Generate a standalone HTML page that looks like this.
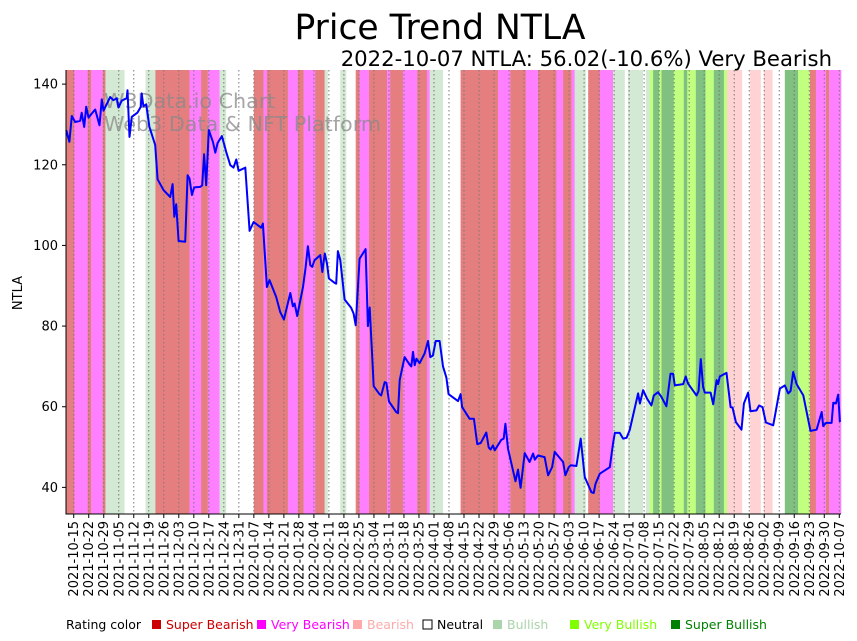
<!DOCTYPE html>
<html><head><meta charset="utf-8"><style>
body{margin:0;background:#fff;}
svg{display:block;font-family:"DejaVu Sans","Liberation Sans",sans-serif;}
</style></head><body>
<svg id="chart" width="857" height="641" viewBox="0 0 857 641" xmlns="http://www.w3.org/2000/svg">
<g id="bands"></g>
<g id="grid"></g>
<text x="104" y="108" font-size="20.7" fill="#888" fill-opacity="0.75">W3Data.io Chart</text>
<text x="104" y="131" font-size="20.7" fill="#888" fill-opacity="0.75">Web3 Data &amp; NFT Platform</text>
<path id="line" fill="none" stroke="#0000ff" stroke-width="2" stroke-linejoin="round"/>
<g id="axes"></g>
<text x="440" y="39" font-size="34.5" text-anchor="middle">Price Trend NTLA</text>
<text x="832" y="66" font-size="21.2" text-anchor="end">2022-10-07 NTLA: 56.02(-10.6%) Very Bearish</text>
<text x="22" y="293" font-size="13" text-anchor="middle" transform="rotate(-90 22 293)">NTLA</text>
<g id="legend" font-size="12.5"></g>
</svg>
<script>
// rating bands: start day (relative to 2021-10-15) and rating code
const bandStarts=[-3.6,0.3,6.5,8.1,13.5,14.8,23.7,33.5,38.1,54.0,59.4,62.5,68.0,71.1,84.0,88.5,90.1,99.9,104.5,107.2,112.6,117.0,118.5,124.3,127.1,131.5,133.3,137.7,146.1,147.6,153.5,160.2,164.7,166.0,172.2,180.4,197.9,203.6,210.8,216.5,225.1,228.2,232.1,233.6,238.8,239.9,245.3,251.5,257.0,258.5,265.5,266.8,268.6,270.2,273.0,274.1,279.8,284.5,286.1,290.1,294.6,298.5,303.2,304.7,311.7,315.3,320.4,321.8,325.9,331.6,337.8,343.3,346.1,350.8,352.2];
const bandRatings=[-3,-2,-3,-2,-3,1,0,1,-3,-2,-3,-2,1,0,-3,-2,-3,-2,-3,-2,-3,1,0,1,0,-3,-2,-3,-2,-3,-2,-3,-2,1,0,-3,-2,-3,-2,-3,-2,-3,-2,1,0,-3,-2,1,0,1,0,1,2,3,2,3,2,3,2,3,2,3,2,-1,0,-1,0,-1,0,3,2,-3,-2,-3,-2];
const bandEnd=357.8;
// price series: day offsets and prices
const days=[-3.5,-2.0,-0.9,0.7,3.0,3.7,4.9,5.8,6.9,8.4,10.0,12.0,13.1,13.9,17.0,18.5,20.1,20.9,22.4,24.7,25.1,26.0,27.1,29.7,31.3,31.7,32.5,33.8,35.3,38.0,39.1,41.9,45.0,46.1,46.9,47.8,48.9,52.0,53.1,54.0,55.1,56.2,59.0,59.9,60.8,61.8,63.0,64.9,66.0,67.1,69.1,71.1,73.0,74.5,75.8,76.9,80.0,82.0,83.9,87.4,88.2,90.1,91.3,94.4,96.3,98.0,101.0,102.2,103.0,104.2,106.9,108.1,109.2,110.3,111.2,112.3,115.0,115.9,117.1,118.1,119.0,121.7,122.4,123.2,124.3,126.3,129.4,130.5,131.5,133.3,136.1,137.2,138.0,139.9,142.6,143.4,145.0,145.8,147.0,150.4,151.2,152.0,154.3,156.6,157.4,158.2,159.0,159.8,161.3,163.6,165.2,166.3,167.5,168.8,170.6,172.2,173.8,174.8,179.2,180.4,181.1,184.6,186.6,188.2,189.8,192.4,193.5,194.4,195.5,196.3,199.4,200.5,201.3,202.5,206.0,207.2,208.4,210.3,212.6,214.2,215.0,216.5,219.6,221.2,223.1,224.3,228.2,229.3,230.8,231.8,234.4,236.4,238.3,241.4,242.5,243.3,245.3,250.0,251.5,252.3,254.6,256.2,257.8,259.3,263.2,264.0,265.5,267.4,269.4,270.5,272.5,274.1,276.4,278.3,279.5,280.3,284.2,285.4,286.5,290.4,291.4,292.4,293.5,294.3,297.0,298.2,299.8,300.5,301.3,304.4,306.3,307.2,308.8,311.4,312.5,314.5,315.6,318.4,319.6,321.2,322.8,326.2,329.3,331.6,333.2,334.3,335.5,337.1,340.2,343.6,346.4,348.8,349.5,350.8,353.4,354.2,355.4,356.5,357.3];
const prices=[128.6,125.7,132.1,130.6,130.9,132.9,129.4,134.4,131.7,132.7,133.7,129.8,136.2,133.4,136.8,136.0,136.5,134.2,135.9,136.5,138.5,126.9,131.9,132.9,134.4,137.7,134.5,135.0,129.4,124.9,116.4,113.7,112.0,115.2,107.1,110.2,101.1,100.9,117.4,116.6,112.5,114.4,114.5,114.9,122.6,114.9,128.6,125.7,123.0,125.4,127.1,123.2,119.9,119.3,121.3,118.5,119.3,103.6,105.8,104.4,105.4,89.7,91.4,87.2,83.5,81.6,88.2,84.9,85.6,82.5,89.7,94.3,99.8,95.1,94.7,96.3,97.6,93.4,98.0,95.5,91.8,90.7,90.5,98.6,96.3,86.6,84.5,83.1,80.2,96.7,99.1,80.0,84.6,65.1,63.1,62.8,66.1,65.9,61.3,58.7,58.4,66.6,72.3,70.5,70.0,73.6,70.3,71.9,70.8,73.2,76.3,72.3,72.7,76.3,76.3,70.0,67.2,63.1,61.4,63.1,59.9,57.0,57.0,50.7,51.0,53.6,49.9,49.4,50.4,49.2,51.8,52.1,55.8,49.6,41.5,44.4,39.9,48.5,46.3,48.4,46.9,47.9,47.5,43.0,45.0,48.8,46.3,43.0,45.0,45.5,45.3,52.1,42.6,38.8,38.6,40.9,43.4,45.0,50.8,53.5,53.5,52.1,52.3,54.3,63.3,60.8,64.1,62.0,60.3,62.8,63.6,62.4,60.1,68.2,68.2,65.3,65.6,67.5,65.7,62.8,63.9,71.8,64.9,63.5,63.5,60.6,66.6,65.6,67.5,68.4,59.9,59.8,56.2,54.3,60.8,63.5,58.9,59.1,60.3,59.9,56.1,55.4,64.5,65.3,63.3,63.9,68.6,65.6,62.8,54.0,54.3,58.7,55.2,56.0,56.0,61.0,60.8,63.0,56.2];
const yTicks=[40,60,80,100,120,140];
const xTickStart=new Date(Date.UTC(2021,9,15));
const xTickCount=52;
const legendLabels=["Super Bearish","Very Bearish","Bearish","Neutral","Bullish","Very Bullish","Super Bullish"];

const NS="http://www.w3.org/2000/svg";
const L=66,R=841,T=70,B=514;
const D0=-3.6,D1=357.8,V0=33.4,V1=143.5;
function xs(d){return L+(d-D0)/(D1-D0)*(R-L);}
function ys(v){return B-(v-V0)/(V1-V0)*(B-T);}
function mk(tag,attrs,parent){const e=document.createElementNS(NS,tag);for(const k in attrs)e.setAttribute(k,attrs[k]);parent.appendChild(e);return e;}
const colorMap={"-3":"#e57f7f","-2":"#ff80ff","-1":"#ffd3d3","0":"#ffffff","1":"#d3e9d3","2":"#c0ff80","3":"#80c080"};
const bandsG=document.getElementById('bands');
for(let i=0;i<bandStarts.length;i++){
  const s=bandStarts[i],e=(i+1<bandStarts.length?bandStarts[i+1]:bandEnd);
  const r=mk('rect',{x:xs(s),y:T,width:Math.max(0,xs(e)-xs(s))+0.3,height:B-T,fill:colorMap[bandRatings[i]]},bandsG);
  
  
}
const gridG=document.getElementById('grid'),axes=document.getElementById('axes');
for(let k=0;k<xTickCount;k++){
  const x=xs(k*7);
  const gl=mk('line',{x1:x,x2:x,y1:T,y2:B,stroke:'#777',"stroke-width":1,"stroke-dasharray":"1.5,2.5"},gridG);
  
  
  mk('line',{x1:x,x2:x,y1:B,y2:B+4,stroke:'#000'},axes);
  const dt=new Date(xTickStart.getTime()+k*7*86400000);
  const lab=dt.toISOString().slice(0,10);
  const t=mk('text',{x:x+4.5,y:B+7,"font-size":13,"text-anchor":"end",transform:`rotate(-90 ${x+4.5} ${B+7})`},axes);
  t.textContent=lab;
  
  
}
yTicks.forEach(v=>{
  const y=ys(v);
  mk('line',{x1:L-4,x2:L,y1:y,y2:y,stroke:'#000'},axes);
  const t=mk('text',{x:L-8,y:y+4.5,"font-size":13,"text-anchor":"end"},axes);
  t.textContent=v;
  
  
});
const ax1=mk('line',{x1:L,x2:L,y1:T,y2:B+0.5,stroke:'#000',"stroke-width":1},axes);


const ax2=mk('line',{x1:L,x2:R,y1:B,y2:B,stroke:'#000',"stroke-width":1},axes);


let d='';
for(let i=0;i<days.length;i++){d+=(i?'L':'M')+xs(days[i]).toFixed(1)+','+ys(prices[i]).toFixed(1);}
document.getElementById('line').setAttribute('d',d);
// legend
const lg=document.getElementById('legend');
const lt=mk('text',{x:66,y:629},lg);lt.textContent='Rating color';
const legPos=[151,256,352,422,492,569,670];
const legFill=["#cc0000","#ff00ff","#ffaaaa","#ffffff","#aad4aa","#80ff00","#008000"];
const legText=["#cc0000","#ff00ff","#ffaaaa","#000000","#aad4aa","#80ff00","#008000"];
legendLabels.forEach((s,i)=>{
  const g=mk('g',{},lg);
  
  
  mk('rect',{x:legPos[i]+1,y:620,width:9,height:9,fill:legFill[i],stroke:i===3?'#000':'none'},g);
  const t=mk('text',{x:legPos[i]+15,y:629,fill:legText[i]},g);t.textContent=s;
});
</script>
</body></html>
